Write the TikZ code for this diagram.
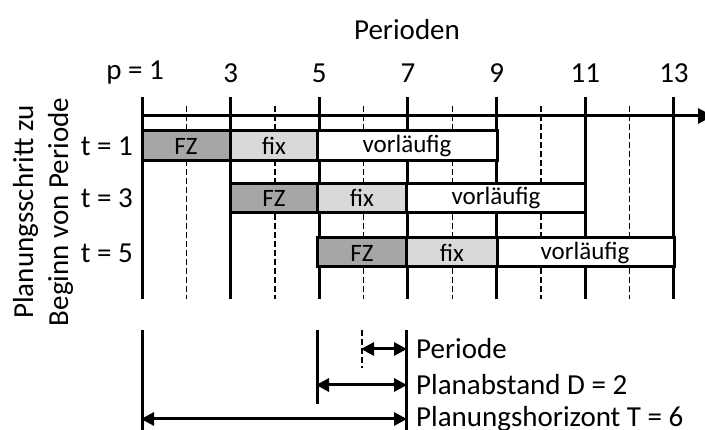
\documentclass[tikz,border=0pt]{standalone}
\usepackage{fontspec}
\setmainfont{Carlito}
\usetikzlibrary{arrows.meta}
\begin{document}
\begin{tikzpicture}[x=1pt,y=-1pt,
  big/.style={font=\fontsize{29}{35}\selectfont, inner sep=0pt},
  small/.style={font=\fontsize{25}{30}\selectfont, inner sep=0pt},
  grid/.style={line width=3pt},
  tick/.style={line width=1.4pt, dash pattern=on 6pt off 3pt},
  bar/.style={draw, line width=3pt},
  fz/.style={bar, fill=black!35},
  fixc/.style={bar, fill=black!15},
  vor/.style={bar, fill=white},
  tip/.style={-{Triangle[length=15pt,width=15pt]}},
  tips/.style={{Triangle[length=13pt,width=13pt]}-{Triangle[length=13pt,width=13pt]}}]
\useasboundingbox (0,0) rectangle (705,430);

% period positions: x = 142 + 44.33*(p-1)
\foreach \p in {1,3,...,13} {
  \coordinate (top\p) at ({142+44.33*(\p-1)},97);
  \coordinate (bot\p) at ({142+44.33*(\p-1)},299);
  \draw[grid] (top\p) -- (bot\p);
}
\foreach \p in {2,4,...,12} {
  \coordinate (dt\p) at ({142+44.33*(\p-1)},106);
  \coordinate (db\p) at ({142+44.33*(\p-1)},299);
  \draw[tick] (dt\p) -- (db\p);
}

% time axis
\coordinate (ax0) at (142,116);
\coordinate (ax1) at (713,116);
\draw[grid, tip] (ax0) -- (ax1);

% axis labels
\node[big] (per) at (407,30) {Perioden};
\node[big, anchor=east] (n1) at (164,73) {p = 1};
\foreach \p in {3,5,...,13}
  \node[big] (n\p) at ({142+44.33*(\p-1)},73) {\p};

\node[big, rotate=90, align=center] (ylab) at (43,212)
  {Planungsschritt zu\\Beginn von Periode};

% planning steps
\node[big, anchor=east] (t1) at (133,146) {t = 1};
\node[big, anchor=east] (t3) at (133,198) {t = 3};
\node[big, anchor=east] (t5) at (133,253) {t = 5};

% row t = 1
\draw[fz]   (142,131) rectangle (230,161);
\draw[fixc] (230,131) rectangle (317,161);
\draw[vor]  (317,131) rectangle (497,161);
\node[small] (a1) at (186,146) {FZ};
\node[small] (a2) at (274,146) {fix};
\node[small] (a3) at (407,146) {vorläufig};
% row t = 3
\draw[fz]   (230,184) rectangle (317,213);
\draw[fixc] (317,184) rectangle (406,213);
\draw[vor]  (406,184) rectangle (585,213);
\node[small] (b1) at (274,198) {FZ};
\node[small] (b2) at (362,198) {fix};
\node[small] (b3) at (496,198) {vorläufig};
% row t = 5
\draw[fz]   (317,238) rectangle (406,267);
\draw[fixc] (406,238) rectangle (497,267);
\draw[vor]  (497,238) rectangle (674,267);
\node[small] (c1) at (362,253) {FZ};
\node[small] (c2) at (452,253) {fix};
\node[small] (c3) at (585,253) {vorläufig};

% legend of intervals
\coordinate (l1t) at (142,330);
\coordinate (l1b) at (142,432);
\coordinate (l5t) at (317,330);
\coordinate (l5b) at (317,404);
\coordinate (l7t) at (406,330);
\coordinate (l7b) at (406,432);
\coordinate (l6t) at (362,330);
\coordinate (l6b) at (362,368);
\draw[grid] (l1t) -- (l1b);
\draw[grid] (l5t) -- (l5b);
\draw[grid] (l7t) -- (l7b);
\draw[tick] (l6t) -- (l6b);

\coordinate (pa) at (362,349);
\coordinate (pb) at (406,349);
\coordinate (da) at (317,385);
\coordinate (db) at (406,385);
\coordinate (ha) at (142,419);
\coordinate (hb) at (406,419);
\draw[grid, tips, shorten <=-1pt, shorten >=-1pt] (pa) -- (pb);
\draw[grid, tips, shorten <=-1pt, shorten >=-1pt] (da) -- (db);
\draw[grid, tips, shorten <=-1pt, shorten >=-1pt] (ha) -- (hb);

\node[big, anchor=west] (lp) at (416,349) {Periode};
\node[big, anchor=west] (ld) at (416,385) {Planabstand D = 2};
\node[big, anchor=west] (lh) at (416,419) {Planungshorizont T = 6};
\end{tikzpicture}
\end{document}
